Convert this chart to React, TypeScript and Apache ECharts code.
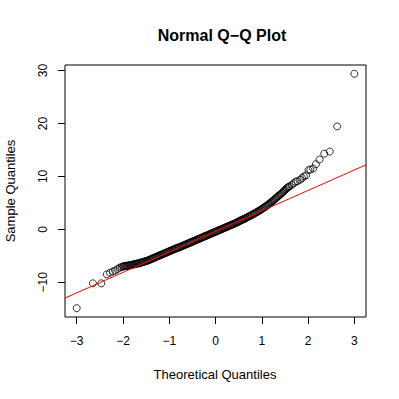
import React, { useEffect, useRef } from "react";
import * as echarts from "echarts";

// Theoretical quantiles (x) and sample quantiles (y)
const theoretical = [
  -3.0, -2.65, -2.47, -2.35, -2.28, -2.22, -2.17, -2.12, -2.07, -2.03,
  -2.0, -1.98, -1.96, -1.94, -1.92, -1.9, -1.88, -1.86, -1.84, -1.82,
  -1.8, -1.78, -1.76, -1.74, -1.72, -1.7, -1.68, -1.66, -1.64, -1.62,
  -1.6, -1.58, -1.56, -1.54, -1.52, -1.5, -1.48, -1.46, -1.44, -1.42,
  -1.4, -1.38, -1.36, -1.34, -1.32, -1.3, -1.28, -1.26, -1.24, -1.22,
  -1.2, -1.18, -1.16, -1.14, -1.12, -1.1, -1.08, -1.06, -1.04, -1.02,
  -1.0, -0.98, -0.96, -0.94, -0.92, -0.9, -0.88, -0.86, -0.84, -0.82,
  -0.8, -0.78, -0.76, -0.74, -0.72, -0.7, -0.68, -0.66, -0.64, -0.62,
  -0.6, -0.58, -0.56, -0.54, -0.52, -0.5, -0.48, -0.46, -0.44, -0.42,
  -0.4, -0.38, -0.36, -0.34, -0.32, -0.3, -0.28, -0.26, -0.24, -0.22,
  -0.2, -0.18, -0.16, -0.14, -0.12, -0.1, -0.08, -0.06, -0.04, -0.02,
  0.0, 0.02, 0.04, 0.06, 0.08, 0.1, 0.12, 0.14, 0.16, 0.18,
  0.2, 0.22, 0.24, 0.26, 0.28, 0.3, 0.32, 0.34, 0.36, 0.38,
  0.4, 0.42, 0.44, 0.46, 0.48, 0.5, 0.52, 0.54, 0.56, 0.58,
  0.6, 0.62, 0.64, 0.66, 0.68, 0.7, 0.72, 0.74, 0.76, 0.78,
  0.8, 0.82, 0.84, 0.86, 0.88, 0.9, 0.92, 0.94, 0.96, 0.98,
  1.0, 1.02, 1.04, 1.06, 1.08, 1.1, 1.12, 1.14, 1.16, 1.18,
  1.2, 1.22, 1.24, 1.26, 1.28, 1.3, 1.32, 1.34, 1.36, 1.38,
  1.4, 1.42, 1.44, 1.46, 1.48, 1.5, 1.52, 1.54, 1.56, 1.58,
  1.6, 1.65, 1.69, 1.73, 1.77, 1.83, 1.87, 1.91, 1.96, 2.01,
  2.05, 2.11, 2.17, 2.25, 2.35, 2.47, 2.63, 3.0,
];
const sample = [
  -14.9, -10.2, -10.2, -8.5, -8.2, -7.95, -7.8, -7.5, -7.25, -7.1,
  -7.0, -6.98, -6.95, -6.92, -6.9, -6.86, -6.82, -6.79, -6.76, -6.73,
  -6.7, -6.65, -6.6, -6.55, -6.5, -6.48, -6.45, -6.4, -6.35, -6.3,
  -6.25, -6.2, -6.15, -6.1, -6.05, -6.0, -5.95, -5.88, -5.8, -5.73,
  -5.65, -5.58, -5.5, -5.42, -5.35, -5.28, -5.2, -5.12, -5.05, -4.98,
  -4.9, -4.82, -4.75, -4.68, -4.6, -4.52, -4.45, -4.38, -4.3, -4.22,
  -4.15, -4.08, -4.0, -3.92, -3.85, -3.78, -3.7, -3.62, -3.55, -3.5,
  -3.45, -3.38, -3.3, -3.22, -3.15, -3.08, -3.0, -2.92, -2.85, -2.78,
  -2.7, -2.62, -2.55, -2.48, -2.4, -2.32, -2.25, -2.18, -2.1, -2.02,
  -1.95, -1.88, -1.8, -1.72, -1.65, -1.58, -1.5, -1.42, -1.35, -1.28,
  -1.2, -1.12, -1.05, -0.98, -0.9, -0.82, -0.75, -0.68, -0.6, -0.52,
  -0.45, -0.38, -0.3, -0.22, -0.15, -0.08, 0.0, 0.08, 0.15, 0.22,
  0.3, 0.38, 0.45, 0.52, 0.6, 0.68, 0.75, 0.82, 0.9, 0.98,
  1.05, 1.12, 1.2, 1.3, 1.4, 1.48, 1.55, 1.65, 1.75, 1.82,
  1.9, 1.98, 2.05, 2.15, 2.25, 2.35, 2.45, 2.52, 2.6, 2.7,
  2.8, 2.9, 3.0, 3.1, 3.2, 3.3, 3.4, 3.5, 3.6, 3.72,
  3.85, 3.95, 4.05, 4.18, 4.3, 4.42, 4.55, 4.68, 4.8, 4.95,
  5.1, 5.25, 5.4, 5.55, 5.7, 5.85, 6.0, 6.15, 6.3, 6.45,
  6.6, 6.75, 6.9, 7.08, 7.25, 7.42, 7.6, 7.75, 7.9, 8.02,
  8.15, 8.4, 8.7, 9.0, 9.1, 9.35, 9.7, 10.0, 10.2, 11.2,
  11.3, 11.5, 12.3, 13.2, 14.3, 14.7, 19.45, 29.4,
];

// qqline (through the quartiles)
const lineIntercept = -0.39;
const lineSlope = 3.87;

const xTicks = [-3, -2, -1, 0, 1, 2, 3];
const yTicks = [-10, 0, 10, 20, 30];

const xMin = -3.253;
const xMax = 3.253;
const yMin = -16.56;
const yMax = 31.06;

const FONT = "'Liberation Sans', Arial, Helvetica, sans-serif";

const fmt = (v: number) => (v < 0 ? "\u2212" + Math.abs(v) : String(v));

export default function App() {
  const ref = useRef<HTMLDivElement>(null);
  useEffect(() => {
    if (!ref.current) return;
    const chart = echarts.init(ref.current, null, { renderer: "svg" });
    const points = theoretical.map((t, i) => [t, sample[i]]);
    const lineData = [
      [xMin, lineIntercept + lineSlope * xMin],
      [xMax, lineIntercept + lineSlope * xMax],
    ];
    chart.setOption({
      animation: false,
      backgroundColor: "#ffffff",
      grid: {
        left: 65,
        top: 65,
        right: 33,
        bottom: 82,
        show: true,
        borderColor: "#000",
        borderWidth: 1,
        backgroundColor: "transparent",
      },
      graphic: [
        {
          type: "text",
          x: 222,
          y: 35,
          style: {
            text: "Normal Q\u2212Q Plot",
            font: `bold 16px ${FONT}`,
            fill: "#000",
            textAlign: "center",
            textVerticalAlign: "middle",
          },
        },
        {
          type: "text",
          x: 215,
          y: 374,
          style: {
            text: "Theoretical Quantiles",
            font: `13px ${FONT}`,
            fill: "#000",
            textAlign: "center",
            textVerticalAlign: "middle",
          },
        },
        {
          type: "text",
          x: 10,
          y: 191,
          rotation: Math.PI / 2,
          style: {
            text: "Sample Quantiles",
            font: `13px ${FONT}`,
            fill: "#000",
            textAlign: "center",
            textVerticalAlign: "middle",
          },
        },
      ],
      xAxis: {
        type: "value",
        min: xMin,
        max: xMax,
        splitLine: { show: false },
        axisLine: { show: false, onZero: false },
        axisTick: {
          show: true,
          inside: false,
          length: 7,
          customValues: xTicks,
          lineStyle: { color: "#000", width: 1 },
        },
        axisLabel: {
          customValues: xTicks,
          formatter: fmt,
          color: "#000",
          fontFamily: FONT,
          fontSize: 12,
          margin: 18,
        },
      },
      yAxis: {
        type: "value",
        min: yMin,
        max: yMax,
        splitLine: { show: false },
        axisLine: { show: false, onZero: false },
        axisTick: {
          show: true,
          inside: false,
          length: 7,
          customValues: yTicks,
          lineStyle: { color: "#000", width: 1 },
        },
        axisLabel: {
          customValues: yTicks,
          formatter: fmt,
          rotate: 90,
          color: "#000",
          fontFamily: FONT,
          fontSize: 12,
          margin: 16,
        },
      },
      series: [
        {
          type: "scatter",
          data: points,
          symbol: "circle",
          symbolSize: 7,
          itemStyle: {
            color: "rgba(0,0,0,0)",
            borderColor: "#000",
            borderWidth: 1,
          },
          emphasis: { disabled: true },
          z: 2,
        },
        {
          type: "line",
          data: lineData,
          showSymbol: false,
          symbol: "none",
          lineStyle: { color: "#ff0000", width: 1 },
          emphasis: { disabled: true },
          z: 3,
        },
      ],
    });
    return () => chart.dispose();
  }, []);
  return (
    <div
      ref={ref}
      style={{ position: "fixed", left: 0, top: 0, width: 399, height: 399 }}
    />
  );
}
